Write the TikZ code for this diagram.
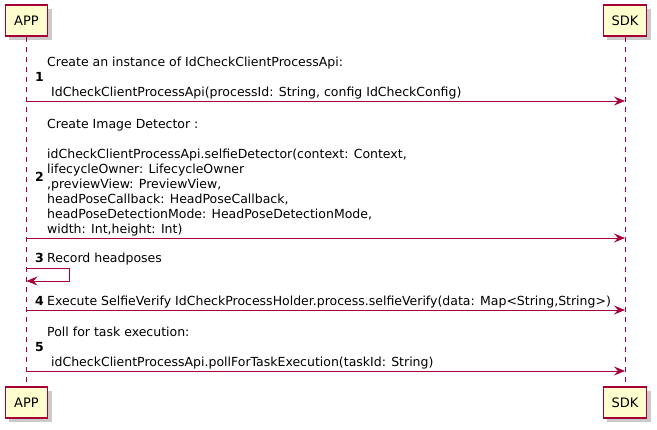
\documentclass[tikz,border=0pt]{standalone}
\usepackage{fontspec}
\setmainfont{DejaVu Sans}
\usetikzlibrary{arrows.meta}
\definecolor{puRed}{HTML}{A80036}
\definecolor{puFill}{HTML}{FEFECE}
\tikzset{
  x=1pt, y=-1pt,
  partbox/.style={draw=puRed, fill=puFill, line width=1.2pt, minimum height=31pt, inner sep=0pt, font=\fontsize{13}{15}\selectfont},
  shadowbox/.style={fill=black!35, draw=none, opacity=0.6},
  lifeline/.style={draw=puRed, line width=0.8pt, dash pattern=on 5pt off 5pt},
  msg/.style={draw=puRed, line width=0.9pt, -{Stealth[length=11pt,width=9pt,inset=4pt]}},
  lbl/.style={anchor=base west, inner sep=0pt, font=\fontsize{12.5}{15}\selectfont},
  num/.style={anchor=base west, inner sep=0pt, font=\fontsize{12.5}{15}\selectfont\bfseries},
}
\begin{document}
\begin{tikzpicture}
\useasboundingbox (0,0) rectangle (657,430);
% shadows
\fill[shadowbox] (9,9) rectangle (52,40);
\fill[shadowbox] (607,9) rectangle (651,40);
\fill[shadowbox] (9,391) rectangle (52,422);
\fill[shadowbox] (607,391) rectangle (651,422);
% participants
\node[partbox, minimum width=42pt] (appT) at (26.5,20.5) {APP};
\node[partbox, minimum width=43pt] (sdkT) at (625,20.5) {SDK};
\node[partbox, minimum width=42pt] (appB) at (26.5,402.5) {APP};
\node[partbox, minimum width=43pt] (sdkB) at (625,402.5) {SDK};
% lifelines
\draw[lifeline] (appT.south) -- (appB.north);
\draw[lifeline] (sdkT.south) -- (sdkB.north);
% coordinates on lifelines
\coordinate (a1) at (26.5,101); \coordinate (s1) at (625,101);
\coordinate (a2) at (26.5,238); \coordinate (s2) at (625,238);
\coordinate (a3) at (26.5,268); \coordinate (a3b) at (26.5,281);
\coordinate (a4) at (26.5,310); \coordinate (s4) at (625,310);
\coordinate (a5) at (26.5,371); \coordinate (s5) at (625,371);
% message 1
\node[lbl] (m1a) at (47,67) {Create an instance of IdCheckClientProcessApi:};
\node[num] (n1) at (35,82) {1};
\node[lbl] (m1b) at (47,97) {\ IdCheckClientProcessApi(processId: String, config IdCheckConfig)};
\draw[msg] (a1) -- (s1);
% message 2
\node[lbl] (m2a) at (47,129) {Create Image Detector :};
\node[lbl] (m2b) at (47,159) {idCheckClientProcessApi.selfieDetector(context: Context,};
\node[lbl] (m2c) at (47,174) {lifecycleOwner: LifecycleOwner};
\node[num] (n2) at (35,182) {2};
\node[lbl] (m2d) at (47,189) {,previewView: PreviewView,};
\node[lbl] (m2e) at (47,204) {headPoseCallback: HeadPoseCallback,};
\node[lbl] (m2f) at (47,219) {headPoseDetectionMode: HeadPoseDetectionMode,};
\node[lbl] (m2g) at (47,234) {width: Int,height: Int)};
\draw[msg] (a2) -- (s2);
% message 3
\node[num] (n3) at (35,263) {3};
\node[lbl] (m3) at (47,263) {Record headposes};
\draw[msg] (a3) -- (69,268) -- (69,281) -- (a3b);
% message 4
\node[num] (n4) at (35,306) {4};
\node[lbl] (m4) at (47,306) {Execute SelfieVerify IdCheckProcessHolder.process.selfieVerify(data: Map<String,String>)};
\draw[msg] (a4) -- (s4);
% message 5
\node[lbl] (m5a) at (47,337) {Poll for task execution:};
\node[num] (n5) at (35,352) {5};
\node[lbl] (m5b) at (47,367) {\ idCheckClientProcessApi.pollForTaskExecution(taskId: String)};
\draw[msg] (a5) -- (s5);
\end{tikzpicture}
\end{document}
